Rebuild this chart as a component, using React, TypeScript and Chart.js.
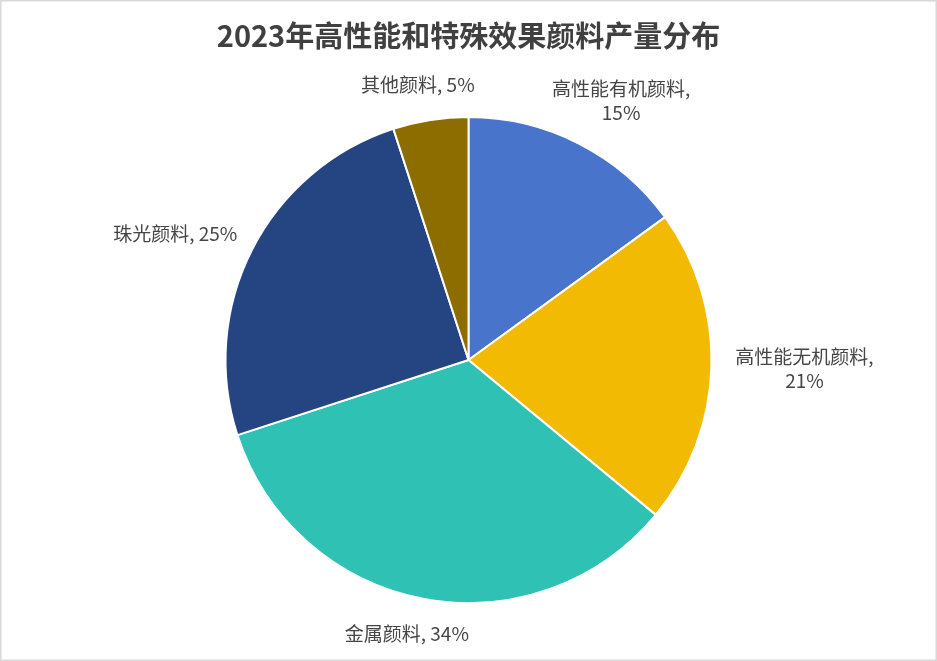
import React, { useEffect, useRef } from "react";
import { Chart, registerables } from "chart.js";

Chart.register(...registerables);

const title = "2023年高性能和特殊效果颜料产量分布";
const categories = ["高性能有机颜料", "高性能无机颜料", "金属颜料", "珠光颜料", "其他颜料"];
const values = [15, 21, 34, 25, 5];
const colors = ["#4874CB", "#F2BA02", "#30C1B5", "#254482", "#8E6D00"];

const FONT = '"Noto Sans CJK SC", "Noto Sans", sans-serif';

const decorPlugin = {
  id: "decor",
  beforeDraw(chart: any) {
    const ctx = chart.ctx;
    ctx.save();
    ctx.fillStyle = "#ffffff";
    ctx.fillRect(0, 0, chart.width, chart.height);
    ctx.restore();
  },
  afterDraw(chart: any) {
    const ctx = chart.ctx;
    ctx.save();
    // border
    ctx.strokeStyle = "#d9d9d9";
    ctx.lineWidth = 1.5;
    ctx.strokeRect(0.75, 0.75, chart.width - 1.5, chart.height - 1.5);
    // title
    ctx.fillStyle = "#404040";
    ctx.font = `bold 29px ${FONT}`;
    ctx.textAlign = "center";
    ctx.textBaseline = "middle";
    ctx.fillText(title, chart.width / 2, 36);

    // labels
    const meta = chart.getDatasetMeta(0);
    ctx.font = `19px ${FONT}`;
    ctx.fillStyle = "#454545";
    const lineH = 24;
    meta.data.forEach((arc: any, i: number) => {
      const { x, y, startAngle, endAngle, outerRadius } = arc.getProps(
        ["x", "y", "startAngle", "endAngle", "outerRadius"],
        true
      );
      const mid = (startAngle + endAngle) / 2;
      const dx = Math.cos(mid);
      const dy = Math.sin(mid);
      const r = outerRadius + 24;
      const ax = x + dx * r;
      const ay = y + dy * r;
      const full = `${categories[i]}, ${values[i]}%`;
      let lines = [full];
      if (ctx.measureText(full).width > 145) {
        lines = [`${categories[i]},`, `${values[i]}%`];
      }
      const w = Math.max(...lines.map((l) => ctx.measureText(l).width));
      const h = lines.length * lineH;
      const cx = ax + (dx * w) / 2;
      const cy = ay + (dy * h) / 2;
      lines.forEach((l, k) => {
        ctx.fillText(l, cx, cy - h / 2 + lineH / 2 + k * lineH);
      });
    });
    ctx.restore();
  },
};

export default function App() {
  const ref = useRef<HTMLCanvasElement>(null);
  useEffect(() => {
    if (!ref.current) return;
    const chart = new Chart(ref.current, {
      type: "pie",
      data: {
        labels: categories,
        datasets: [
          {
            data: values,
            backgroundColor: colors,
            borderColor: "#ffffff",
            borderWidth: 2,
          },
        ],
      },
      options: {
        responsive: false,
        animation: false,
        layout: { padding: { top: 116, bottom: 57, left: 0, right: 0 } },
        plugins: {
          legend: { display: false },
          title: { display: false },
          tooltip: { enabled: false },
        },
      },
      plugins: [decorPlugin],
    });
    return () => chart.destroy();
  }, []);
  return (
    <div style={{ position: "fixed", left: 0, top: 0, width: 937, height: 661 }}>
      <canvas ref={ref} width={937} height={661} />
    </div>
  );
}
